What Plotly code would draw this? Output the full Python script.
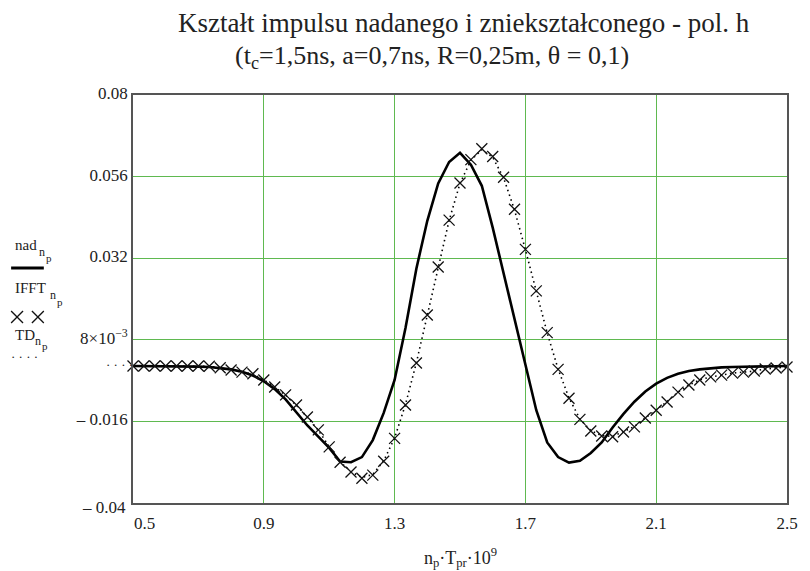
import plotly.graph_objects as go

# sample times (ns): n_p * T_pr * 1e9
t = [0.5, 0.5333, 0.5667, 0.6, 0.6333, 0.6667, 0.7, 0.7333, 0.7667, 0.8,
     0.8333, 0.8667, 0.9, 0.9333, 0.9667, 1.0, 1.0333, 1.0667, 1.1, 1.1333,
     1.1667, 1.2, 1.2333, 1.2667, 1.3, 1.3333, 1.3667, 1.4, 1.4333, 1.4667,
     1.5, 1.5333, 1.5667, 1.6, 1.6333, 1.6667, 1.7, 1.7333, 1.7667, 1.8,
     1.8333, 1.8667, 1.9, 1.9333, 1.9667, 2.0, 2.0333, 2.0667, 2.1, 2.1333,
     2.1667, 2.2, 2.2333, 2.2667, 2.3, 2.3333, 2.3667, 2.4, 2.4333, 2.4667, 2.5]

nad = [0.0003, 0.0003, 0.0003, 0.0003, 0.0002, 0.0002, 0.0001, 0.0, -0.0003, -0.0007,
       -0.0014, -0.0025, -0.0042, -0.0065, -0.0095, -0.0135, -0.0172, -0.0205, -0.0238, -0.0278,
       -0.0280, -0.0265, -0.0215, -0.0135, -0.0038, 0.0115, 0.029, 0.043, 0.054, 0.0603,
       0.0630, 0.0595, 0.0533, 0.0410, 0.0275, 0.0136, 0.0003, -0.0127, -0.0222, -0.0265,
       -0.0281, -0.0276, -0.0253, -0.0222, -0.0178, -0.0138, -0.0102, -0.0072, -0.0049, -0.0032,
       -0.0020, -0.0012, -0.0007, -0.0003, -0.0001, 0.0, 0.0001, 0.0002, 0.0002, 0.0003, 0.0003]

ifft = [0.0003, 0.0003, 0.0003, 0.0003, 0.0003, 0.0003, 0.0003, 0.0002, -0.0002, -0.0009,
        -0.0015, -0.0020, -0.0038, -0.0059, -0.0082, -0.0112, -0.0147, -0.0185, -0.0235, -0.0280,
        -0.0309, -0.0327, -0.0318, -0.0277, -0.0210, -0.0112, 0.0012, 0.0153, 0.0294, 0.0432,
        0.0541, 0.0610, 0.0642, 0.0619, 0.0558, 0.0464, 0.0346, 0.0224, 0.0101, -0.0007,
        -0.0092, -0.0154, -0.0188, -0.0203, -0.0205, -0.0191, -0.0176, -0.0150, -0.0127, -0.0103,
        -0.0074, -0.0053, -0.0038, -0.0029, -0.0024, -0.0018, -0.0015, -0.0012, -0.0006, -0.0003, 0.0]

td = [0.0003, 0.0003, 0.0003, 0.0003, 0.0003, 0.0003, 0.0003, 0.0002, -0.0002, -0.0009,
      -0.0015, -0.0021, -0.0038, -0.0059, -0.0083, -0.0113, -0.0148, -0.0186, -0.0234, -0.0279,
      -0.0308, -0.0325, -0.0316, -0.0276, -0.0209, -0.0110, 0.0013, 0.0154, 0.0295, 0.0431,
      0.0540, 0.0608, 0.0639, 0.0617, 0.0556, 0.0462, 0.0345, 0.0223, 0.0100, -0.0006,
      -0.0091, -0.0153, -0.0187, -0.0202, -0.0204, -0.0190, -0.0175, -0.0150, -0.0126, -0.0102,
      -0.0074, -0.0053, -0.0038, -0.0029, -0.0024, -0.0018, -0.0015, -0.0012, -0.0006, -0.0003, 0.0]

x_ticks = [0.9, 1.3, 1.7, 2.1, 2.5]
x_ticktext = ["0.9", "1.3", "1.7", "2.1", "2.5"]
y_ticks = [-0.016, 0.008, 0.032, 0.056, 0.08]
y_ticktext = ["– 0.016", "8×10<sup>−3</sup>", "0.032", "0.056", "0.08"]

SERIF = "Liberation Serif"
INK = "#222222"
GRID = "rgb(95,185,80)"
FRAME = "#555555"

fig = go.Figure()
fig.add_trace(go.Scatter(x=t, y=td, mode="lines",
                         line=dict(color="black", width=1.6, dash="1.5px,3.5px"),
                         cliponaxis=False, showlegend=False))
fig.add_trace(go.Scatter(x=t, y=nad, mode="lines",
                         line=dict(color="black", width=2.6),
                         cliponaxis=False, showlegend=False))
fig.add_trace(go.Scatter(x=t, y=ifft, mode="markers",
                         marker=dict(symbol="x-thin", size=11, color="black",
                                     line=dict(color="#111111", width=1.3)),
                         cliponaxis=False, showlegend=False))

fig.update_layout(
    width=810, height=571,
    margin=dict(l=133, r=17, t=95, b=68),
    paper_bgcolor="white", plot_bgcolor="white",
    font=dict(family=SERIF, size=17, color=INK),
    xaxis=dict(range=[0.5, 2.5], tickvals=x_ticks, ticktext=x_ticktext,
               showgrid=True, gridcolor=GRID, gridwidth=1.2,
               showline=True, linecolor=FRAME, linewidth=1.6, mirror=True,
               ticks="", zeroline=False, tickfont=dict(size=17), ticklabelstandoff=4),
    yaxis=dict(range=[-0.04, 0.08], tickvals=y_ticks, ticktext=y_ticktext,
               showgrid=True, gridcolor=GRID, gridwidth=1.2,
               showline=True, linecolor=FRAME, linewidth=1.6, mirror=True,
               ticks="", zeroline=False, tickfont=dict(size=17), ticklabelshift=-2),
)


def px_x(p):
    return (p - 133) / 660.0


def px_y(p):
    return (503 - p) / 408.0


def txt(s, x, y, size, xanchor="left"):
    return dict(text=s, xref="paper", yref="paper", x=px_x(x), y=px_y(y),
                xanchor=xanchor, yanchor="middle", showarrow=False,
                font=dict(family=SERIF, size=size, color=INK))


ann = []
# title
ann.append(txt("Kształt impulsu nadanego i zniekształconego - pol. h", 467, 23, 27, "center"))
ann.append(txt("(t<sub>c</sub>=1,5ns, a=0,7ns, R=0,25m, θ = 0,1)", 234, 57, 26))
# first x tick label (shifted right as in reference) and lowest y tick label
ann.append(txt("0.5", 132, 523, 17))
ann.append(txt("– 0.04", 128, 507, 17, "right"))
# x axis title
ann.append(txt("n<sub>p</sub>·T<sub>pr</sub>·10<sup>9</sup>", 463, 557, 18, "center"))
# left-side Mathcad style legend
ann.append(txt("nad", 12, 245, 15))
ann.append(txt("n", 36, 252, 12))
ann.append(txt("p", 43, 258, 11))
ann.append(txt("IFFT", 12, 288, 15))
ann.append(txt("n", 47, 295, 12))
ann.append(txt("p", 54, 302, 11))
ann.append(txt("TD", 12, 335, 15))
ann.append(txt("n", 32, 341, 12))
ann.append(txt("p", 39, 346, 11))
ann.append(txt("· · · ·", 8, 356, 13))
ann.append(txt("· · · ·", 104, 364, 13))
fig.update_layout(annotations=ann)

shapes = [dict(type="line", xref="paper", yref="paper", x0=px_x(10), x1=px_x(43),
               y0=px_y(268), y1=px_y(268), line=dict(color="black", width=3))]
# legend crosses
for cx in (16, 37):
    shapes.append(dict(type="line", xref="paper", yref="paper",
                       x0=px_x(cx - 6), x1=px_x(cx + 6), y0=px_y(311), y1=px_y(323),
                       line=dict(color="#111111", width=1.3)))
    shapes.append(dict(type="line", xref="paper", yref="paper",
                       x0=px_x(cx - 6), x1=px_x(cx + 6), y0=px_y(323), y1=px_y(311),
                       line=dict(color="#111111", width=1.3)))
fig.update_layout(shapes=shapes)

fig.write_html("out.html")
